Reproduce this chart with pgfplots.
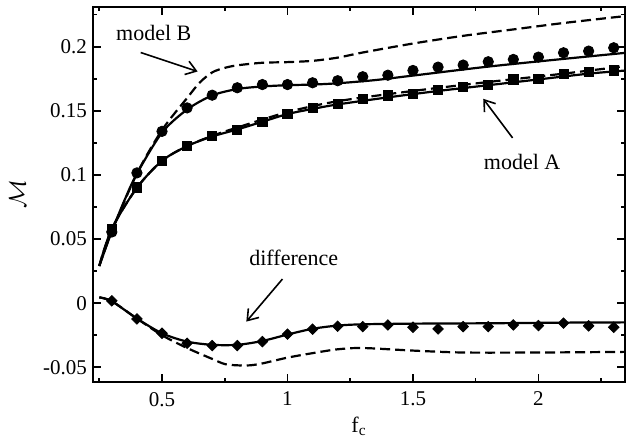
\documentclass[border=0pt]{standalone}
\usepackage{pgfplots}
\pgfplotsset{compat=1.18}
\usepackage{fontspec}
\setmainfont{Liberation Serif}
\usetikzlibrary{arrows.meta}

\begin{document}
\begin{tikzpicture}
\useasboundingbox (-46.5pt,-33pt) rectangle (271pt,191pt);
\begin{axis}[
    at={(0pt,0pt)}, anchor=south west,
    scale only axis, width=266pt, height=187.5pt,
    xmin=0.225, xmax=2.345, ymin=-0.0615, ymax=0.231,
    xtick={0.5,1,1.5,2}, minor xtick={0.25,0.75,1.25,1.75,2.25},
    ytick={-0.05,0,0.05,0.1,0.15,0.2},
    minor ytick={-0.025,0.025,0.075,0.125,0.175,0.225},
    tick align=inside,
    major tick length=4pt, minor tick length=2pt,
    axis line style={line width=1pt},
    every tick/.style={black, line width=0.8pt},
    /pgf/number format/assume math mode=true,
    /pgf/number format/fixed,
    /pgf/number format/precision=2,
    tick label style={font=\fontsize{10.5}{12}\selectfont},
    xticklabel style={yshift=-1.5pt},
    yticklabel style={xshift=0.5pt},
    xlabel={f\textsubscript{c}},
    xlabel style={at={(axis description cs:0.5,0)}, anchor=center, yshift=-22pt, font=\fontsize{11}{13}\selectfont},
    clip=true,
]
% model B, solid
\addplot[black, line width=1.1pt, smooth] coordinates {
  (0.25,0.029) (0.3,0.056) (0.35,0.080) (0.4,0.101) (0.5,0.133) (0.6,0.151)
  (0.7,0.162) (0.8,0.167) (0.9,0.169) (1.0,0.170) (1.1,0.1705) (1.2,0.1715)
  (1.35,0.174) (1.5,0.1775) (1.8,0.1845) (2.1,0.1905) (2.35,0.1953)
};
% model B, dashed
\addplot[black, line width=1.1pt, dash pattern=on 5pt off 2.5pt, smooth] coordinates {
  (0.25,0.029) (0.3,0.056) (0.4,0.101) (0.5,0.135) (0.6,0.160) (0.65,0.172)
  (0.7,0.180) (0.75,0.1835) (0.8,0.1855) (0.9,0.1875) (1.0,0.188) (1.1,0.189)
  (1.2,0.1915) (1.3,0.1955) (1.5,0.2025) (1.7,0.2085) (1.9,0.2135) (2.1,0.2185) (2.35,0.224)
};
% model A, solid
\addplot[black, line width=1.1pt, smooth] coordinates {
  (0.25,0.029) (0.3,0.058) (0.4,0.090) (0.5,0.111) (0.6,0.1225) (0.7,0.130)
  (0.8,0.1355) (0.9,0.1415) (1.0,0.1475) (1.1,0.1515) (1.2,0.155) (1.4,0.1605)
  (1.6,0.1655) (1.8,0.170) (2.0,0.1745) (2.2,0.179) (2.35,0.1815)
};
% model A, dashed
\addplot[black, line width=1.1pt, dash pattern=on 5pt off 2.5pt, smooth] coordinates {
  (0.25,0.029) (0.3,0.058) (0.4,0.090) (0.5,0.111) (0.6,0.1225) (0.7,0.1305)
  (0.8,0.137) (1.0,0.149) (1.2,0.1575) (1.5,0.1655) (1.8,0.1725) (2.1,0.179) (2.35,0.185)
};
% difference, solid
\addplot[black, line width=1.1pt, smooth] coordinates {
  (0.25,0.0045) (0.3,0.0015) (0.4,-0.012) (0.5,-0.0235) (0.6,-0.030) (0.7,-0.0325)
  (0.8,-0.0325) (0.9,-0.0295) (1.0,-0.0245) (1.1,-0.020) (1.2,-0.0175) (1.3,-0.0165)
  (1.5,-0.016) (1.8,-0.0157) (2.1,-0.0152) (2.35,-0.015)
};
% difference, dashed
\addplot[black, line width=1.1pt, dash pattern=on 5pt off 2.5pt, smooth] coordinates {
  (0.25,0.0045) (0.3,0.0015) (0.4,-0.012) (0.5,-0.025) (0.6,-0.035) (0.7,-0.0435)
  (0.75,-0.0475) (0.8,-0.0485) (0.85,-0.0485) (0.9,-0.047) (1.0,-0.0425) (1.1,-0.039)
  (1.2,-0.036) (1.3,-0.035) (1.5,-0.037) (1.7,-0.0385) (2.0,-0.0385) (2.35,-0.038)
};
% markers
\addplot[only marks, mark=*, mark size=2.6pt, black] coordinates {
  (0.3,0.0555) (0.4,0.1016) (0.5,0.134) (0.6,0.1523) (0.7,0.1622) (0.8,0.168)
  (0.9,0.1705) (1.0,0.1705) (1.1,0.1719) (1.2,0.1735) (1.3,0.1766) (1.4,0.1778)
  (1.5,0.1815) (1.6,0.1841) (1.7,0.1857) (1.8,0.1883) (1.9,0.1901) (2.0,0.1919)
  (2.1,0.1953) (2.2,0.1966) (2.3,0.1992)
};
\addplot[only marks, mark=square*, mark size=2.3pt, black] coordinates {
  (0.3,0.0578) (0.4,0.0903) (0.5,0.111) (0.6,0.1224) (0.7,0.1302) (0.8,0.1354)
  (0.9,0.1414) (1.0,0.1477) (1.1,0.1523) (1.2,0.1555) (1.3,0.1594) (1.4,0.162)
  (1.5,0.1633) (1.6,0.1661) (1.7,0.1684) (1.8,0.1705) (1.9,0.1745) (2.0,0.1752)
  (2.1,0.1791) (2.2,0.1802) (2.3,0.1815)
};
\addplot[only marks, mark=square*, mark options={rotate=45}, mark size=1.85pt, black] coordinates {
  (0.3,0.0018) (0.4,-0.0123) (0.5,-0.0235) (0.6,-0.0313) (0.7,-0.0331) (0.8,-0.0331)
  (0.9,-0.030) (1.0,-0.0242) (1.1,-0.0203) (1.2,-0.018) (1.3,-0.0183) (1.4,-0.017)
  (1.5,-0.0188) (1.6,-0.0201) (1.7,-0.0183) (1.8,-0.0183) (1.9,-0.017) (2.0,-0.0175)
  (2.1,-0.0156) (2.2,-0.0177) (2.3,-0.0188)
};
% annotations
\node[font=\fontsize{11}{13}\selectfont] at (axis cs:0.467,0.2104) {model B};
\draw[line width=0.8pt, -{Straight Barb[length=5pt,width=7pt]}] (axis cs:0.415,0.1955) -- (axis cs:0.642,0.1807);
\node[font=\fontsize{11}{13}\selectfont] at (axis cs:1.935,0.1104) {model A};
\draw[line width=0.8pt, -{Straight Barb[length=5pt,width=7pt]}] (axis cs:1.897,0.1289) -- (axis cs:1.780,0.1594);
\node[font=\fontsize{11}{13}\selectfont] at (axis cs:1.025,0.0354) {difference};
\draw[line width=0.8pt, -{Straight Barb[length=5pt,width=7pt]}] (axis cs:0.980,0.0188) -- (axis cs:0.836,-0.0144);
\end{axis}
% y label
\node[rotate=90, font=\fontsize{13}{15}\selectfont] at (-37.75pt,93.75pt) {$\mathcal{M}$};
\end{tikzpicture}
\end{document}
